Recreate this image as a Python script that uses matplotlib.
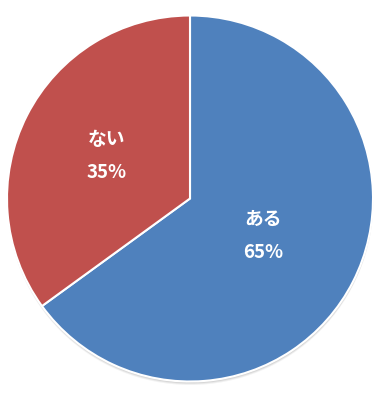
import numpy as np
import matplotlib.pyplot as plt
from matplotlib.patches import Circle

labels = ["ある", "ない"]
values = [65, 35]
colors = ["#4F81BD", "#C0504D"]
label_dist = [0.45, 0.51]

plt.rcParams['font.family'] = ['Noto Sans CJK JP', 'DejaVu Sans']

W, H = 383, 400
cx, cy, r = 190, 198.5, 183.0

fig = plt.figure(figsize=(W / 100, H / 100), dpi=100)
ax = fig.add_axes([0, 0, 1, 1])
ax.set_aspect('equal')
ax.axis('off')

# soft shadow under the pie
for k, a in [(3.5, 0.10), (2.5, 0.15), (1.5, 0.2)]:
    ax.add_patch(Circle((0.3 / r, -k / r), 1.0, color='#808080', alpha=a, lw=0))

wedges, _ = ax.pie(values, colors=colors, startangle=90, counterclock=False,
                   radius=1.0, center=(0, 0),
                   wedgeprops=dict(edgecolor='white', linewidth=1.5))

total = sum(values)
for w, lab, v, d in zip(wedges, labels, values, label_dist):
    ang = np.deg2rad((w.theta1 + w.theta2) / 2)
    x, y = d * np.cos(ang), d * np.sin(ang)
    ax.text(x, y, f"{lab}\n{100 * v / total:.0f}%", color='white', fontsize=13.5,
            fontweight='bold', linespacing=1.95, ha='center', va='center')

ax.set_xlim(-cx / r, (W - cx) / r)
ax.set_ylim(-(H - cy) / r, cy / r)

fig.savefig('out.png', dpi=100)
